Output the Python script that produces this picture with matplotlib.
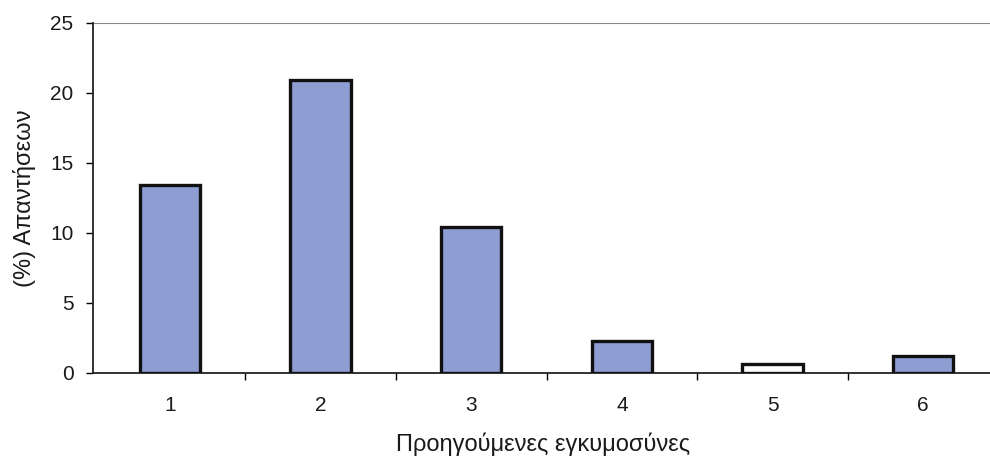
import matplotlib
matplotlib.use("Agg")
import matplotlib.pyplot as plt
import numpy as np

plt.rcParams['font.family'] = ['Liberation Sans', 'DejaVu Sans']

categories = ["1", "2", "3", "4", "5", "6"]
values = [13.4, 20.9, 10.4, 2.3, 0.6, 1.2]
fill_colors = ["#8f9ed2", "#8f9ed2", "#8f9ed2", "#8f9ed2", "#ffffff", "#8f9ed2"]
y_ticks = [0, 5, 10, 15, 20, 25]

fig = plt.figure(figsize=(9.9, 4.69), dpi=100)
ax = fig.add_axes([0.094, 0.205, 0.91, 0.746])

x = np.arange(1, len(categories) + 1)
ax.bar(x, values, width=0.4, color=fill_colors, edgecolor="#111111",
       linewidth=2.4, zorder=3)

ax.set_xlim(0.49, 6.47)
ax.set_ylim(0, 25)
ax.set_yticks(y_ticks)
ax.set_yticklabels([str(t) for t in y_ticks], fontsize=15, color="#1a1a1a")
ax.set_xticks(x)
ax.set_xticklabels(categories, fontsize=15, color="#1a1a1a")
ax.tick_params(axis="x", length=0, pad=17)
ax.tick_params(axis="y", length=5, width=1, pad=9, direction="out")

# small ticks at category boundaries
ax.set_xticks(np.arange(1.5, 6.5, 1.0), minor=True)
ax.tick_params(axis="x", which="minor", length=5, width=1, direction="out")

# top reference line at 25
ax.axhline(25, color="#8a8a8a", linewidth=1.5, zorder=2)

for side in ["top", "right"]:
    ax.spines[side].set_visible(False)
ax.spines["left"].set_linewidth(1.3)
ax.spines["left"].set_color("#222222")
ax.spines["bottom"].set_linewidth(1.3)
ax.spines["bottom"].set_color("#222222")

ax.set_xlabel("Προηγούμενες εγκυμοσύνες", fontsize=17, labelpad=12, color="#1a1a1a")
ax.set_ylabel("(%) Απαντήσεων", fontsize=17, labelpad=10, color="#1a1a1a")

fig.savefig("out.png", dpi=100)
